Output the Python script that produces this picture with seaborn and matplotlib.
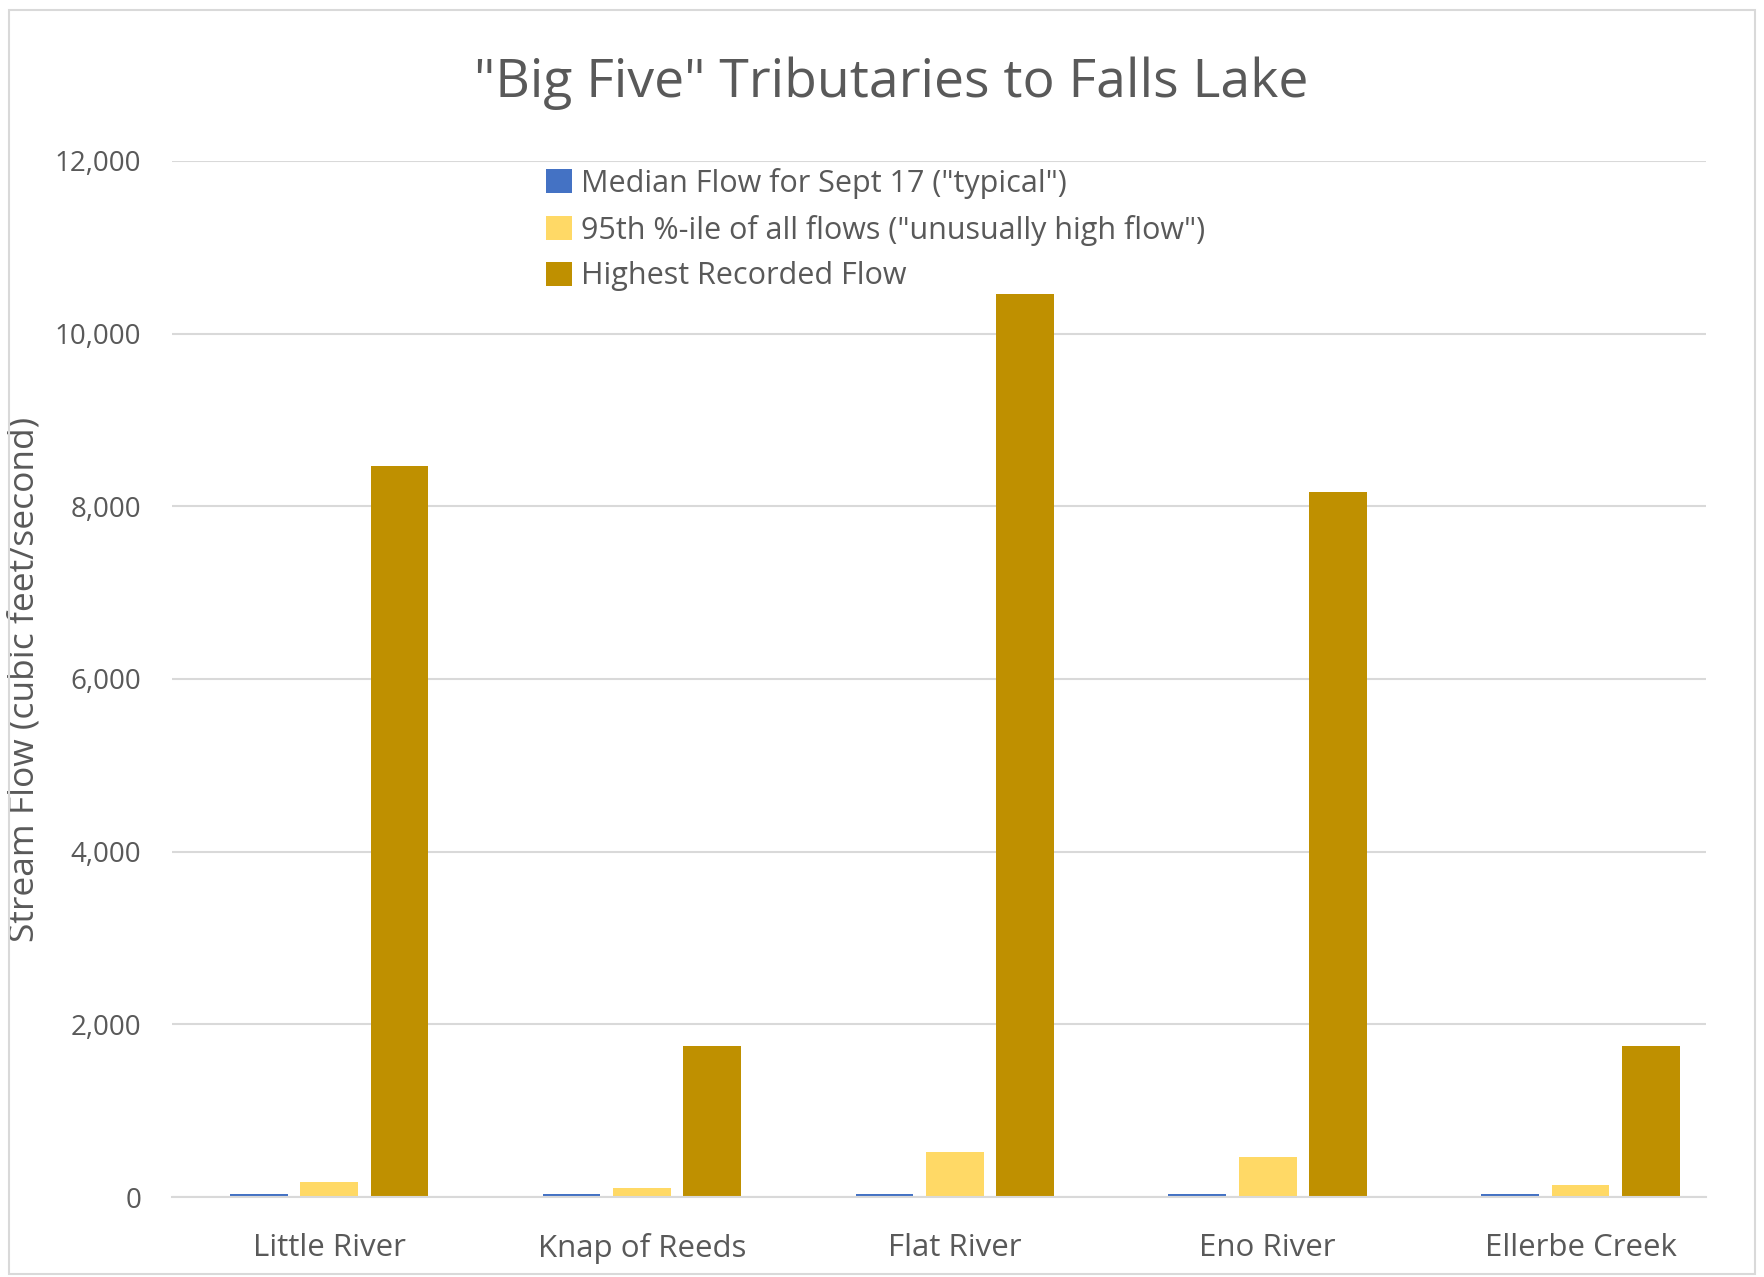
import numpy as np
import pandas as pd
import matplotlib
matplotlib.use('Agg')
import matplotlib.pyplot as plt
import seaborn as sns
from matplotlib.patches import Rectangle
from matplotlib.ticker import FuncFormatter

# Data
rivers = ['Little River', 'Knap of Reeds', 'Flat River', 'Eno River', 'Ellerbe Creek']
median_flow = [40, 35, 35, 35, 35]
high_95th = [170, 110, 520, 460, 140]
highest_recorded = [8470, 1750, 10460, 8170, 1750]

series_names = ['Median Flow for Sept 17 ("typical")',
                '95th %-ile of all flows ("unusually high flow")',
                'Highest Recorded Flow']
colors = ['#4472C4', '#FFD966', '#BF9000']

df = pd.DataFrame({
    'river': rivers * 3,
    'series': [series_names[0]] * 5 + [series_names[1]] * 5 + [series_names[2]] * 5,
    'flow': median_flow + high_95th + highest_recorded,
})

sns.set_theme(style='white')
plt.rcParams['font.family'] = ['Open Sans', 'DejaVu Sans']
text_color = '#595959'

fig = plt.figure(figsize=(17.64, 12.77), dpi=100)
ax = fig.add_axes([0.0975, 0.0626, 0.8695, 0.8114])

sns.barplot(data=df, x='river', y='flow', hue='series', palette=colors,
            width=0.675, gap=0.18, ax=ax, saturation=1, linewidth=0)

ax.set_xlim(-0.502, 4.40)
ax.set_ylim(0, 12000)
ax.set_yticks(np.arange(0, 12001, 2000))
ax.yaxis.set_major_formatter(FuncFormatter(lambda v, p: f'{int(v):,}'))
ax.grid(axis='y', color='#D9D9D9', linewidth=1.5)
ax.set_axisbelow(True)
for s in ['top', 'right', 'left']:
    ax.spines[s].set_visible(False)
ax.spines['bottom'].set_color('#D9D9D9')
ax.spines['bottom'].set_linewidth(1.5)
ax.tick_params(axis='both', length=0, colors=text_color)
ax.tick_params(axis='x', labelsize=22.5, pad=26)
ax.tick_params(axis='y', labelsize=20, pad=22)
ax.set_xlabel('')
ax.set_ylabel('Stream Flow (cubic feet/second)', fontsize=25.5, color=text_color)
ax.yaxis.set_label_coords(-0.085, 0.5)

fig.suptitle('"Big Five" Tributaries to Falls Lake', fontsize=38.5, color=text_color,
             x=0.505, y=0.935, va='center')

leg = ax.legend(loc='upper left', bbox_to_anchor=(0.226, 1.02), frameon=False,
                fontsize=22, handlelength=0.85, handleheight=0.85, handletextpad=0.3,
                labelspacing=0.52, labelcolor=text_color)

# outer chart border
fig.patches.append(Rectangle((0.005, 0.002), 0.99, 0.99, transform=fig.transFigure,
                             fill=False, edgecolor='#D9D9D9', linewidth=1.5))

fig.savefig('out.png', dpi=100, facecolor='white')
